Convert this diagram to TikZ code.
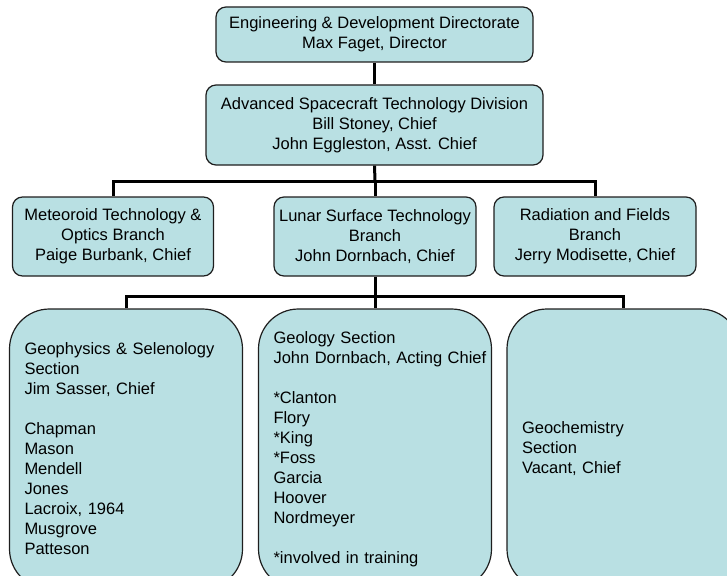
\documentclass[tikz,border=0pt]{standalone}
\usepackage{fontspec}
\setmainfont{Liberation Sans}
\definecolor{boxfill}{RGB}{185,224,227}
\definecolor{boxline}{RGB}{30,30,30}
\begin{document}
\begin{tikzpicture}[x=1pt,y=-1pt,
  every node/.style={font=\fontsize{16.5}{20}\selectfont},
  orgbox/.style={draw=boxline,fill=boxfill,line width=1.2pt,rounded corners=10pt,align=center,inner sep=0pt},
  sectbox/.style={draw=boxline,fill=boxfill,line width=1.2pt,rounded corners=40pt,align=left,inner xsep=15pt,inner ysep=0pt,text width=203pt,minimum height=280pt},
  conn/.style={line width=3pt,black}]
\useasboundingbox (0,0) rectangle (727,575);
\clip (0,0) rectangle (727,575);

\node[orgbox,minimum width=317pt,minimum height=55pt] (dir) at (374.5,34.5)
  {Engineering \& Development Directorate\\Max Faget, Director};
\node[orgbox,minimum width=337pt,minimum height=80pt] (div) at (374.5,125)
  {Advanced Spacecraft Technology Division\\Bill Stoney, Chief\\John Eggleston, Asst. Chief};

\node[orgbox,minimum width=201pt,minimum height=79pt] (b1) at (113,236.5)
  {Meteoroid Technology \&\\Optics Branch\\Paige Burbank, Chief};
\node[orgbox,minimum width=202pt,minimum height=79pt] (b2) at (375,236.5)
  {Lunar Surface Technology\\Branch\\John Dornbach, Chief};
\node[orgbox,minimum width=202pt,minimum height=79pt] (b3) at (595,236.5)
  {Radiation and Fields\\Branch\\Jerry Modisette, Chief};

\node[sectbox] (s1) at (126,449)
  {Geophysics \& Selenology\\Section\\Jim Sasser, Chief\\[20pt]Chapman\\Mason\\Mendell\\Jones\\Lacroix, 1964\\Musgrove\\Patteson};
\node[sectbox] (s2) at (375,449)
  {Geology Section\\\makebox[0pt][l]{John Dornbach, Acting Chief}\\[20pt]{}*Clanton\\{}Flory\\{}*King\\{}*Foss\\{}Garcia\\{}Hoover\\{}Nordmeyer\\[20pt]{}*involved in training};
\node[sectbox] (s3) at (623.5,449)
  {Geochemistry\\Section\\Vacant, Chief};

\coordinate (busA) at (375,181);
\coordinate (busB) at (375,296);

\draw[conn] (dir.south) -- (div.north);
\draw[conn] (div.south) -- (busA);
\draw[conn] (b1.north) |- (busA) -| (b3.north);
\draw[conn] (busA) -- (b2.north);
\draw[conn] (b2.south) -- (busB);
\draw[conn] (s1.north) |- (busB) -| (s3.north);
\draw[conn] (busB) -- (s2.north);
\end{tikzpicture}
\end{document}
